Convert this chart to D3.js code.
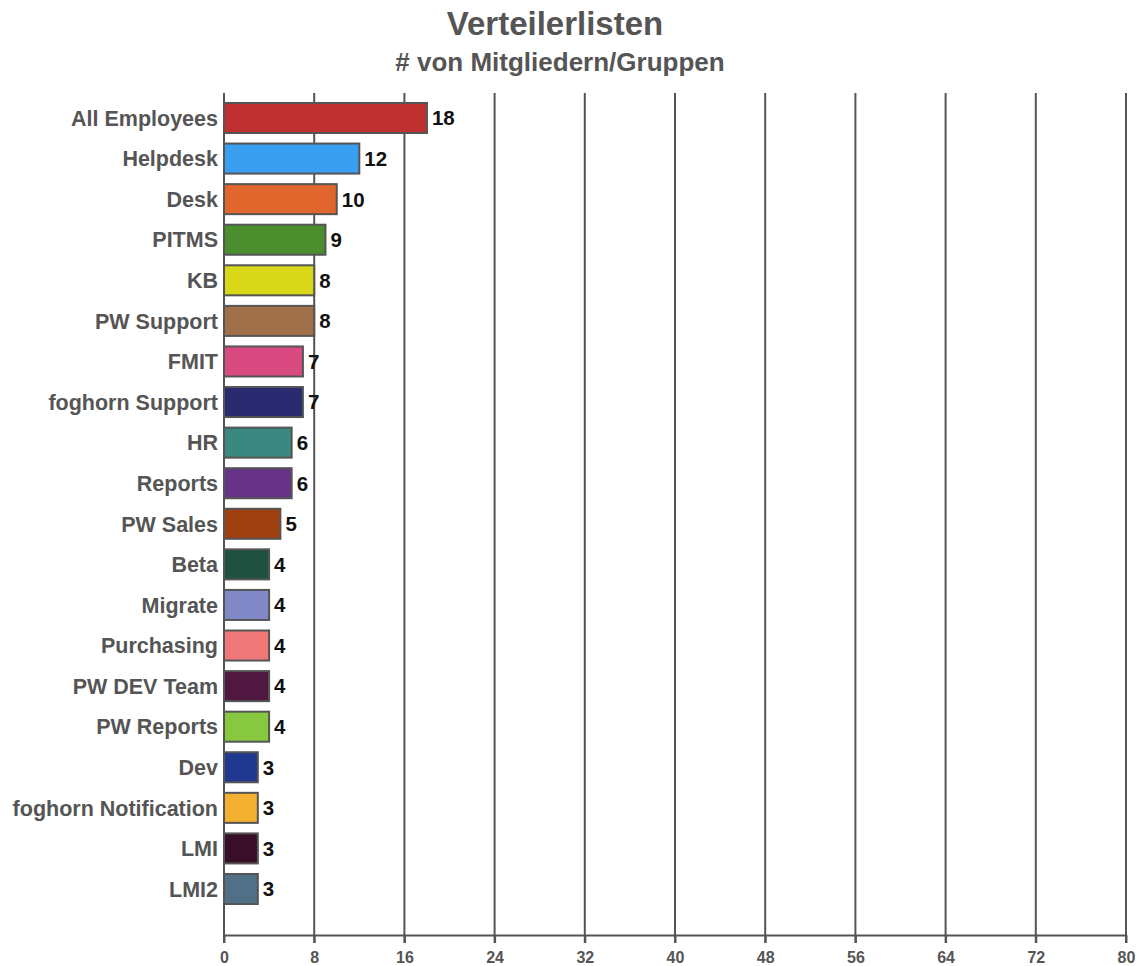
<!DOCTYPE html>
<html><head><meta charset="utf-8">
<script src="https://cdn.jsdelivr.net/npm/d3@7"></script>
<style>body{margin:0;background:#fff}svg{display:block}</style>
</head><body>
<script>
const categories = ["All Employees","Helpdesk","Desk","PITMS","KB","PW Support","FMIT","foghorn Support","HR","Reports","PW Sales","Beta","Migrate","Purchasing","PW DEV Team","PW Reports","Dev","foghorn Notification","LMI","LMI2"];
const values = [18,12,10,9,8,8,7,7,6,6,5,4,4,4,4,4,3,3,3,3];
const colors = ["#c03030","#3a9ff0","#e0662e","#4a8e2e","#d8d818","#a0704a","#d84a80","#2a2a70","#3a8880","#663388","#a04010","#205040","#8088c8","#f07878","#501840","#88c840","#203890","#f4b030","#380e28","#507088"];
const tickValues = [0,8,16,24,32,40,48,56,64,72,80];
const title = "Verteilerlisten";
const subtitle = "# von Mitgliedern/Gruppen";

const W = 1139, H = 966;
const FONT = "Liberation Sans, Arial, Helvetica, sans-serif";
const svg = d3.select("body").append("svg").attr("width", W).attr("height", H);
const x = d3.scaleLinear().domain([0,80]).range([224,1126]);
const y = d3.scaleBand().domain(categories).range([97.7,909.3]).paddingInner(0.26).paddingOuter(0.13);
const axisY = 935, gridTop = 93;
const gray = "#555";

svg.append("text").attr("x",555).attr("y",35).attr("text-anchor","middle")
  .attr("font-family",FONT).attr("font-weight","bold")
  .attr("font-size",33).attr("fill",gray).text(title);
svg.append("text").attr("x",560).attr("y",71).attr("text-anchor","middle")
  .attr("font-family",FONT).attr("font-weight","bold")
  .attr("font-size",26).attr("fill",gray).text(subtitle);

// grid
svg.append("g").selectAll("line").data(tickValues).join("line")
  .attr("x1",d=>x(d)).attr("x2",d=>x(d)).attr("y1",gridTop).attr("y2",axisY+8)
  .attr("stroke",gray).attr("stroke-width",2);

// x axis
const xa = svg.append("g").attr("transform",`translate(0,${axisY})`)
  .call(d3.axisBottom(x).tickValues(tickValues).tickSize(8).tickSizeOuter(0));
xa.select(".domain").attr("stroke",gray).attr("stroke-width",2);
xa.selectAll(".tick line").attr("stroke",gray).attr("stroke-width",2);
xa.selectAll(".tick text").attr("fill",gray).attr("font-size",16).attr("font-weight","bold")
  .attr("font-family",FONT).attr("y",28).attr("dy",null);

// bars
svg.append("g").selectAll("rect").data(categories).join("rect")
  .attr("x",x(0)).attr("y",d=>y(d)).attr("width",(d,i)=>x(values[i])-x(0))
  .attr("height",y.bandwidth()).attr("fill",(d,i)=>colors[i])
  .attr("stroke",gray).attr("stroke-width",2);

// category labels
svg.append("g").selectAll("text").data(categories).join("text")
  .attr("x",218).attr("y",d=>y(d)+y.bandwidth()/2).attr("dy","0.36em")
  .attr("text-anchor","end").attr("font-family",FONT)
  .attr("font-weight","bold").attr("font-size",21.5).attr("fill",gray).text(d=>d);

// value labels
svg.append("g").selectAll("text").data(categories).join("text")
  .attr("x",(d,i)=>x(values[i])+5).attr("y",d=>y(d)+y.bandwidth()/2).attr("dy","0.36em")
  .attr("font-family",FONT)
  .attr("font-weight","bold").attr("font-size",20.5).attr("fill","#111").text((d,i)=>values[i]);

// left axis line
svg.append("line").attr("x1",x(0)).attr("x2",x(0)).attr("y1",gridTop).attr("y2",axisY+8)
  .attr("stroke",gray).attr("stroke-width",2);
</script>
</body></html>
